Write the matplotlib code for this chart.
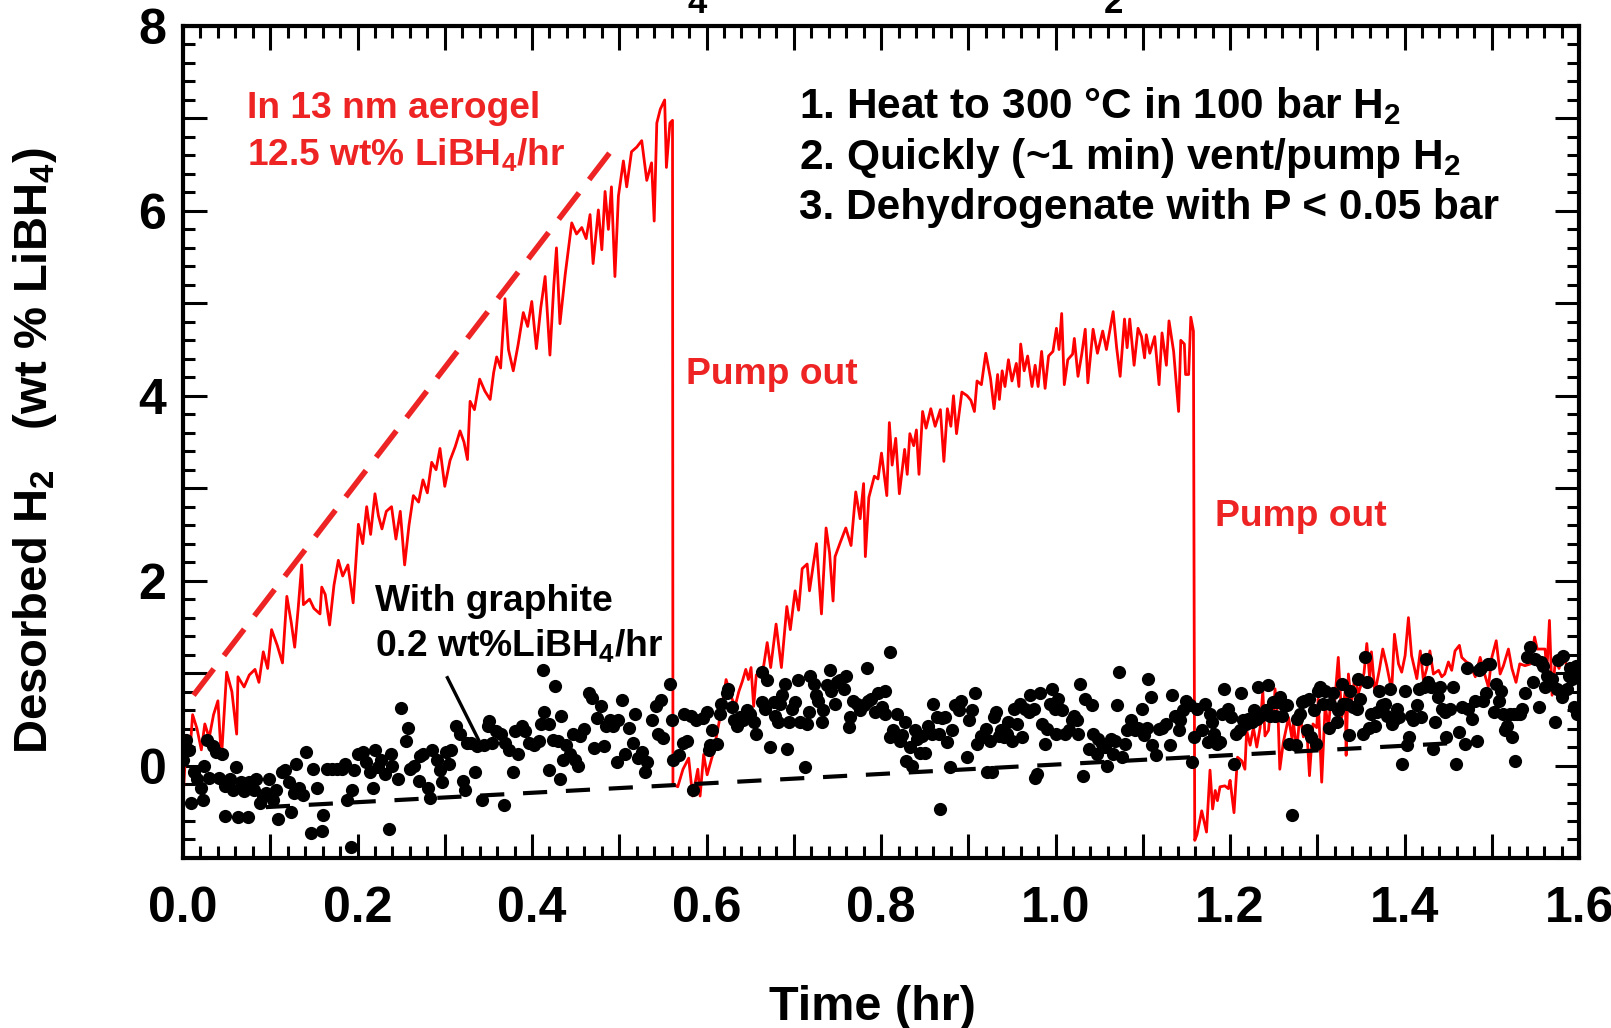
import matplotlib
matplotlib.use("Agg")
import matplotlib.pyplot as plt
from matplotlib.ticker import MultipleLocator, FuncFormatter

plt.rcParams["font.family"] = ["Liberation Sans", "DejaVu Sans"]
plt.rcParams["font.weight"] = "bold"
plt.rcParams["mathtext.fontset"] = "custom"
plt.rcParams["mathtext.bf"] = "Liberation Sans:bold"
plt.rcParams["mathtext.rm"] = "Liberation Sans:bold"
plt.rcParams["mathtext.default"] = "bf"

# red trace: LiBH4 in 13 nm aerogel (time in hr, wt% LiBH4)
red_t = [0.000, 0.004, 0.008, 0.011, 0.016, 0.021, 0.025, 0.030, 0.035, 0.040, 0.044, 0.050, 0.056, 0.0615, 0.063,
         0.070, 0.076, 0.0825, 0.087, 0.092, 0.097, 0.1015, 0.108, 0.114, 0.119, 0.124, 0.128, 0.132, 0.136, 0.138,
         0.145, 0.150, 0.157, 0.159, 0.163, 0.168, 0.173, 0.178, 0.183, 0.189, 0.195, 0.201, 0.206, 0.2105, 0.215,
         0.220, 0.224, 0.228, 0.233, 0.239, 0.244, 0.249, 0.254, 0.259, 0.264, 0.270, 0.275, 0.280, 0.285, 0.290,
         0.2945, 0.300, 0.306, 0.312, 0.3175, 0.322, 0.326, 0.329, 0.334, 0.340, 0.346, 0.352, 0.356, 0.3595, 0.364,
         0.369, 0.373, 0.3785, 0.384, 0.390, 0.395, 0.3997, 0.405, 0.410, 0.415, 0.4205, 0.425, 0.428, 0.432, 0.438,
         0.4455, 0.451, 0.457, 0.462, 0.4665, 0.470, 0.476, 0.480, 0.4837, 0.4875, 0.491, 0.495, 0.499, 0.5047, 0.5085,
         0.514, 0.520, 0.5257, 0.5315, 0.537, 0.540, 0.543, 0.547, 0.552, 0.554, 0.558, 0.561,
         # first pump out
         0.5615, 0.567, 0.573, 0.5795, 0.584, 0.590, 0.5926, 0.5967, 0.6007, 0.608, 0.612, 0.617, 0.6224, 0.628,
         0.6327, 0.637, 0.641, 0.645, 0.648, 0.651, 0.654, 0.657, 0.661, 0.6655, 0.6695, 0.6735, 0.6797, 0.6858,
         0.692, 0.696, 0.7015, 0.7055, 0.7096, 0.7153, 0.718, 0.722, 0.726, 0.7317, 0.737, 0.741, 0.745, 0.7473,
         0.7535, 0.7596, 0.7656, 0.771, 0.776, 0.780, 0.782, 0.786, 0.7923, 0.7965, 0.8005, 0.8066, 0.8095, 0.8127,
         0.8168, 0.821, 0.827, 0.830, 0.833, 0.8374, 0.8405, 0.8435, 0.8476, 0.8516, 0.857, 0.862, 0.868, 0.872,
         0.876, 0.880, 0.883, 0.8865, 0.8926, 0.8987, 0.903, 0.907, 0.910, 0.915, 0.920, 0.9254, 0.9295, 0.9336,
         0.9356, 0.9388, 0.942, 0.946, 0.950, 0.955, 0.958, 0.960, 0.964, 0.968, 0.973, 0.9766, 0.980, 0.984, 0.988,
         0.992, 0.997, 1.001, 1.004, 1.007, 1.010, 1.014, 1.0195, 1.0215, 1.0257, 1.030, 1.034, 1.037, 1.043, 1.048,
         1.054, 1.0583, 1.066, 1.070, 1.074, 1.079, 1.082, 1.085, 1.090, 1.0945, 1.0985, 1.102, 1.104, 1.108, 1.1136,
         1.1186, 1.122, 1.127, 1.130, 1.1353, 1.141, 1.1435, 1.1476, 1.149, 1.1525, 1.155, 1.158,
         # second pump out
         1.1595, 1.162, 1.1675, 1.173, 1.177, 1.180, 1.183, 1.1855, 1.1885, 1.194, 1.198, 1.200, 1.2045, 1.2085,
         1.2135, 1.217, 1.219, 1.223, 1.2267, 1.2306, 1.2344, 1.2375, 1.240, 1.244, 1.2467, 1.2496, 1.2515, 1.2553,
         1.257, 1.261, 1.267, 1.271, 1.2726, 1.2764, 1.280, 1.284, 1.288, 1.291, 1.295, 1.2993, 1.301, 1.305, 1.309,
         1.3127, 1.3165, 1.320, 1.324, 1.328, 1.332, 1.333, 1.3356, 1.339, 1.343, 1.347, 1.351, 1.3535, 1.3567,
         1.360, 1.362, 1.366, 1.371, 1.375, 1.3795, 1.3852, 1.3884, 1.393, 1.3967, 1.4006, 1.4044, 1.408, 1.414,
         1.418, 1.4216, 1.4254, 1.429, 1.433, 1.439, 1.4426, 1.446, 1.4502, 1.454, 1.4578, 1.4628, 1.4655, 1.471,
         1.475, 1.481, 1.4866, 1.4923, 1.496, 1.500, 1.505, 1.5095, 1.5133, 1.519, 1.523, 1.5277, 1.532, 1.538,
         1.5444, 1.549, 1.552, 1.557, 1.561, 1.563, 1.566, 1.569, 1.573, 1.577, 1.581, 1.585]
red_y = [-0.35, 0.30, 0.15, 0.55, 0.40, 0.17, 0.45, 0.30, 0.55, 0.70, 0.07, 1.01, 0.80, 0.34, 0.96,
         0.85, 0.98, 1.04, 0.90, 1.23, 1.05, 1.47, 1.30, 1.11, 1.83, 1.55, 1.28, 1.70, 2.17, 1.74,
         1.80, 1.70, 1.64, 1.93, 1.85, 1.52, 1.95, 2.22, 2.05, 2.17, 1.76, 2.61, 2.40, 2.80, 2.50,
         2.94, 2.70, 2.56, 2.75, 2.80, 2.45, 2.75, 2.17, 2.60, 2.92, 2.85, 3.09, 2.95, 3.28, 3.20,
         3.43, 3.02, 3.30, 3.45, 3.62, 3.50, 3.31, 3.94, 3.85, 4.18, 4.05, 3.96, 4.25, 4.42, 4.30,
         5.05, 4.50, 4.27, 4.55, 4.90, 4.75, 5.02, 4.51, 4.95, 5.29, 4.44, 5.20, 5.60, 4.78, 5.31,
         5.87, 5.75, 5.82, 5.70, 5.96, 5.43, 6.01, 5.58, 6.21, 5.80, 6.26, 5.29, 6.16, 6.54, 6.26,
         6.64, 6.69, 6.76, 6.33, 6.52, 5.89, 6.95, 7.10, 7.20, 6.47, 6.95, 6.98,
         -0.20, -0.23, -0.04, 0.08, -0.33, -0.04, -0.33, 0.12, -0.10, 0.15, 0.35, 0.60, 0.93, 0.75,
         0.64, 0.80, 0.91, 1.04, 0.93, 1.06, 0.64, 0.98, 1.00, 1.08, 1.33, 1.06, 1.53, 1.06,
         1.72, 1.47, 1.89, 1.68, 2.13, 2.18, 1.89, 2.15, 2.40, 1.64, 2.57, 2.30, 1.78, 2.26,
         2.42, 2.57, 2.38, 2.96, 2.67, 3.05, 2.26, 2.90, 3.13, 3.10, 3.38, 2.92, 3.71, 3.25,
         3.54, 2.94, 3.42, 3.15, 3.59, 3.46, 3.63, 3.15, 3.83, 3.65, 3.86, 3.67, 3.85, 3.29,
         3.86, 3.67, 4.00, 3.59, 4.04, 4.00, 3.95, 3.83, 4.16, 4.12, 4.46, 4.19, 3.86, 4.23,
         3.96, 4.27, 4.10, 4.39, 4.16, 4.35, 4.10, 4.56, 4.27, 4.43, 4.10, 4.33, 4.10, 4.48, 4.08,
         4.43, 4.48, 4.73, 4.50, 4.89, 4.12, 4.39, 4.45, 4.62, 4.21, 4.45, 4.72, 4.14, 4.72, 4.46,
         4.70, 4.50, 4.91, 4.52, 4.21, 4.83, 4.52, 4.83, 4.33, 4.73, 4.64, 4.41, 4.66, 4.46, 4.64,
         4.12, 4.68, 4.33, 4.81, 4.48, 3.83, 4.60, 4.56, 4.23, 4.23, 4.85, 4.70,
         -0.81, -0.75, -0.49, -0.72, -0.05, -0.47, -0.27, -0.38, -0.23, -0.22, -0.25, -0.16, -0.51, 0.09,
         0.05, -0.04, 0.38, 0.22, 0.41, 0.20, 0.41, 0.81, 0.32, 0.38, 0.65, 0.52, 0.83, 0.45,
         -0.04, 0.25, 0.52, 0.29, 0.47, 0.16, 0.56, 0.31, 0.38, -0.11, 0.45, 0.41, 0.72, -0.18, 0.65,
         0.41, 0.81, 0.70, 1.17, 0.52, 0.81, 0.11, 0.99, 0.67, 0.96, 0.78, 0.90, 1.00, 1.32,
         0.94, 1.23, 0.79, 1.03, 1.26, 1.08, 0.81, 1.42, 1.10, 1.01, 1.19, 1.60, 1.19, 0.94,
         1.24, 0.92, 1.05, 1.24, 0.99, 1.03, 0.96, 0.99, 1.12, 1.03, 1.24, 1.30, 1.17, 1.12,
         1.10, 0.96, 1.17, 0.97, 0.85, 1.17, 1.35, 0.99, 1.08, 1.26, 1.05, 0.90, 1.10, 1.08,
         1.10, 1.39, 1.26, 1.26, 1.26, 1.01, 1.57, 0.76, 1.15, 1.05, 1.20, 1.10]

# black points: with graphite
dot_t = [0.000, 0.003, 0.007, 0.009, 0.0126, 0.0165, 0.0205, 0.0225, 0.0244, 0.027, 0.0303, 0.034, 0.038, 0.0414,
         0.0442, 0.048, 0.048, 0.054, 0.057, 0.061, 0.063, 0.066, 0.070, 0.074, 0.076, 0.081, 0.084, 0.0877, 0.0916,
         0.0955, 0.099, 0.1034, 0.107, 0.109, 0.113, 0.1173, 0.121, 0.124, 0.127, 0.129, 0.133, 0.137, 0.141, 0.147,
         0.149, 0.153, 0.159, 0.161, 0.165, 0.171, 0.177, 0.182, 0.186, 0.188, 0.192, 0.194, 0.196, 0.200, 0.206,
         0.210, 0.214, 0.218, 0.220, 0.224, 0.227, 0.232, 0.236, 0.238, 0.240, 0.246, 0.250, 0.255, 0.258, 0.260,
         0.265, 0.270, 0.272, 0.275, 0.281, 0.283, 0.285, 0.291, 0.295, 0.297, 0.301, 0.305, 0.307, 0.313, 0.317,
         0.321, 0.323, 0.326, 0.3297, 0.335, 0.3375, 0.343, 0.3446, 0.349, 0.3505, 0.354, 0.3584, 0.364, 0.368,
         0.3695, 0.3735, 0.378, 0.380, 0.384, 0.388, 0.392, 0.396, 0.402, 0.408, 0.410, 0.414, 0.413, 0.419, 0.420,
         0.424, 0.426, 0.430, 0.432, 0.4335, 0.4355, 0.4395, 0.4435, 0.4475, 0.449, 0.453, 0.455, 0.459, 0.465,
         0.469, 0.471, 0.475, 0.479, 0.483, 0.485, 0.489, 0.493, 0.497, 0.499, 0.503, 0.507, 0.511, 0.516, 0.518,
         0.522, 0.526, 0.530, 0.532, 0.538, 0.542, 0.544, 0.548, 0.550, 0.558, 0.560, 0.562, 0.568, 0.573, 0.574,
         0.578, 0.582, 0.5845, 0.588, 0.596, 0.600, 0.603,
         0.604, 0.606, 0.612, 0.615, 0.617, 0.623, 0.625, 0.629, 0.631, 0.635, 0.638, 0.642, 0.646, 0.650, 0.654,
         0.657, 0.663, 0.663, 0.669, 0.667, 0.673, 0.677, 0.679, 0.682, 0.684, 0.686, 0.690, 0.692, 0.695, 0.698,
         0.701, 0.705, 0.707, 0.713, 0.715, 0.717, 0.719, 0.723, 0.726, 0.728, 0.732, 0.734, 0.738, 0.742, 0.743,
         0.747, 0.749, 0.753, 0.757, 0.760, 0.763, 0.764, 0.768, 0.772, 0.776, 0.780, 0.784, 0.785, 0.789, 0.793,
         0.797, 0.801, 0.805, 0.805, 0.810, 0.810, 0.814, 0.818, 0.822, 0.824, 0.828, 0.829, 0.833, 0.835, 0.839,
         0.841, 0.845, 0.847, 0.850, 0.854, 0.858, 0.860, 0.864, 0.866, 0.868, 0.870, 0.873, 0.876, 0.879, 0.881,
         0.885, 0.889, 0.892, 0.898, 0.901, 0.904, 0.908, 0.910, 0.914, 0.917, 0.920, 0.921, 0.925, 0.927, 0.929,
         0.932, 0.935, 0.938, 0.941, 0.944, 0.946, 0.950, 0.952, 0.956, 0.959, 0.962, 0.965, 0.969, 0.971, 0.975,
         0.977, 0.979, 0.982, 0.984, 0.988, 0.990, 0.994, 0.996, 0.999, 1.001, 1.003, 1.007, 1.011, 1.015, 1.019,
         1.021, 1.024, 1.026, 1.028, 1.032, 1.034, 1.038, 1.042, 1.043, 1.047, 1.049, 1.053, 1.057, 1.059, 1.063,
         1.066, 1.068, 1.070, 1.073, 1.076, 1.080, 1.082, 1.085, 1.087, 1.091, 1.095, 1.099, 1.101, 1.105, 1.106,
         1.109, 1.111, 1.115, 1.118, 1.122, 1.126, 1.131, 1.134, 1.137, 1.141, 1.143, 1.146, 1.150, 1.154, 1.156,
         1.159, 1.162,
         1.168, 1.171, 1.175, 1.177, 1.179, 1.181, 1.185, 1.188, 1.191, 1.193, 1.198, 1.201, 1.205, 1.207, 1.211,
         1.212, 1.215, 1.218, 1.221, 1.225, 1.227, 1.231, 1.232, 1.234, 1.238, 1.241, 1.243, 1.246, 1.249, 1.252,
         1.254, 1.257, 1.259, 1.262, 1.265, 1.267, 1.271, 1.275, 1.277, 1.280, 1.282, 1.285, 1.288, 1.290, 1.293,
         1.296, 1.298, 1.301, 1.303, 1.307, 1.309, 1.313, 1.315, 1.318, 1.322, 1.324, 1.328, 1.329, 1.334, 1.336,
         1.338, 1.341, 1.345, 1.347, 1.349, 1.352, 1.355, 1.357, 1.359, 1.362, 1.366, 1.368, 1.371, 1.374, 1.377,
         1.380, 1.383, 1.385, 1.389, 1.391, 1.394, 1.397, 1.400, 1.403, 1.405, 1.407, 1.410, 1.414, 1.416, 1.419,
         1.422, 1.424, 1.427, 1.430, 1.433, 1.435, 1.438, 1.441, 1.443, 1.446, 1.448, 1.452, 1.456, 1.459, 1.462,
         1.466, 1.469, 1.471, 1.473, 1.477, 1.481, 1.483, 1.485, 1.487, 1.490, 1.493, 1.496, 1.498, 1.502, 1.505,
         1.508, 1.510, 1.513, 1.515, 1.517, 1.521, 1.523, 1.525, 1.527, 1.529, 1.532, 1.534, 1.538, 1.540, 1.544,
         1.547, 1.550, 1.554, 1.556, 1.559, 1.561, 1.563, 1.569, 1.572, 1.575, 1.576, 1.580, 1.582, 1.586, 1.588,
         1.590, 1.592, 1.594, 1.598, 1.596]
dot_y = [0.06, 0.28, 0.17, -0.41, -0.07, -0.15, -0.24, -0.37, 0.00, 0.28, -0.13, 0.21, 0.15, -0.13,
         0.13, -0.22, -0.55, -0.15, -0.26, -0.02, -0.56, -0.18, -0.28, -0.56, -0.18, -0.26, -0.15, -0.41, -0.33,
         -0.30, -0.15, -0.37, -0.26, -0.58, -0.07, -0.05, -0.18, -0.50, -0.30, 0.02, -0.24, -0.32, 0.15, -0.73,
         -0.04, -0.24, -0.71, -0.54, -0.04, -0.04, -0.04, -0.04, 0.02, -0.37, -0.88, -0.26, -0.05, 0.13, 0.15,
         0.04, -0.07, -0.24, 0.17, -0.02, 0.06, -0.09, -0.69, 0.13, 0.00, -0.15, 0.62, 0.26, 0.41, -0.04,
         0.00, -0.17, 0.10, 0.13, -0.24, -0.35, 0.17, 0.06, -0.05, -0.18, 0.15, 0.02, 0.17, 0.43, 0.34,
         -0.17, -0.26, 0.24, 0.24, -0.07, 0.21, -0.37, 0.22, 0.43, 0.48, 0.24, 0.37, 0.34, -0.43,
         0.24, 0.17, -0.07, 0.37, 0.13, 0.43, 0.37, 0.24, 0.22, 0.26, 0.45, 0.58, 1.03, 0.45, -0.05,
         0.28, 0.86, 0.26, -0.15, 0.54, 0.06, 0.22, 0.13, 0.34, 0.06, 0.00, 0.32, 0.39, 0.78,
         0.73, 0.19, 0.51, 0.64, 0.21, 0.43, 0.49, 0.43, 0.04, 0.49, 0.71, 0.13, 0.41, 0.24, 0.56,
         0.08, 0.15, -0.07, 0.04, 0.49, 0.64, 0.34, 0.71, 0.30, 0.88, 0.49, 0.06, 0.11, 0.24, 0.56,
         0.26, 0.54, -0.26, 0.49, 0.51, 0.58, 0.17,
         0.22, 0.38, 0.23, 0.56, 0.67, 0.78, 0.83, 0.63, 0.49, 0.43, 0.52, 0.49, 0.60, 0.56, 0.47,
         0.34, 1.01, 0.69, 0.92, 0.61, 0.20, 0.69, 0.54, 0.47, 0.67, 0.76, 0.88, 0.18, 0.47, 0.61,
         0.69, 0.92, 0.47, -0.02, 0.45, 0.58, 0.97, 0.88, 0.76, 0.70, 0.47, 0.60, 0.87, 1.03, 0.81,
         0.67, 0.90, 0.92, 0.83, 0.97, 0.42, 0.52, 0.70, 0.67, 0.60, 0.65, 1.06, 0.70, 0.72, 0.58,
         0.79, 0.63, 0.81, 0.56, 1.23, 0.31, 0.38, 0.56, 0.27, 0.33, 0.47, 0.05, 0.20, 0.00, 0.38,
         0.29, 0.14, 0.32, 0.14, 0.43, 0.34, 0.67, 0.52, 0.34, -0.47, 0.51, 0.52, 0.25, -0.02, 0.38,
         0.65, 0.60, 0.70, 0.09, 0.49, 0.60, 0.78, 0.23, 0.32, 0.31, 0.40, -0.07, 0.27, -0.07, 0.52,
         0.58, 0.32, 0.38, 0.31, 0.34, 0.47, 0.27, 0.61, 0.45, 0.67, 0.31, 0.61, 0.58, 0.76, 0.61,
         -0.13, -0.09, 0.78, 0.45, 0.23, 0.40, 0.67, 0.83, 0.61, 0.34, 0.72, 0.60, 0.34, 0.38, 0.49,
         0.54, 0.49, 0.34, 0.88, -0.11, 0.72, 0.18, 0.65, 0.34, 0.13, 0.29, 0.23, 0.20, 0.00, 0.29,
         0.13, 0.27, 0.65, 1.01, 0.09, 0.23, 0.38, 0.41, 0.49, 0.38, 0.41, 0.61, 0.33, 0.41, 0.94,
         0.74, 0.22, 0.11, 0.40, 0.41, 0.45, 0.22, 0.76, 0.54, 0.38, 0.49, 0.60, 0.70, 0.65, 0.04,
         0.31, 0.61,
         0.38, 0.67, 0.25, 0.56, 0.47, 0.34, 0.23, 0.25, 0.56, 0.83, 0.61, 0.52, 0.02, 0.34, 0.38,
         0.78, 0.49, 0.45, 0.50, 0.47, 0.60, 0.50, 0.85, 0.54, 0.56, 0.60, 0.87, 0.54, 0.69, 0.54,
         0.69, 0.74, 0.54, 0.65, 0.65, 0.23, -0.54, 0.22, 0.50, 0.56, 0.69, 0.70, 0.38, 0.72, 0.31,
         0.60, 0.23, 0.81, 0.85, 0.67, 0.81, 0.41, 0.67, 0.78, 0.47, 0.60, 0.88, 0.67, 0.67, 0.33,
         0.81, 0.63, 0.61, 0.94, 0.72, 0.34, 1.17, 0.90, 0.41, 0.56, 0.43, 0.58, 0.81, 0.65, 0.67,
         0.54, 0.83, 0.45, 0.50, 0.61, 0.52, 0.02, 0.81, 0.22, 0.31, 0.54, 0.49, 0.65, 0.83, 0.52,
         0.85, 1.15, 0.90, 0.85, 0.18, 0.47, 0.74, 0.85, 0.61, 0.58, 0.31, 0.61, 0.85, 0.02, 0.36,
         0.63, 0.23, 1.05, 0.61, 0.50, 0.70, 0.27, 1.03, 1.05, 0.70, 0.79, 1.10, 1.10, 0.58, 0.88,
         0.70, 0.81, 0.56, 0.38, 0.43, 0.56, 0.31, 0.56, 0.05, 0.56, 0.56, 0.61, 0.78, 1.17, 1.28,
         0.90, 1.15, 0.63, 1.12, 1.08, 0.85, 0.97, 0.94, 0.47, 0.83, 1.14, 0.74, 1.19, 0.83, 0.97,
         1.06, 0.94, 0.63, 0.56, 1.08]

# fitted rate lines (end points)
aerogel_fit_t = [0.012, 0.494]
aerogel_fit_y = [0.76, 6.69]
graphite_fit_t = [0.095, 1.47]
graphite_fit_y = [-0.45, 0.25]

red = "#FF0000"
text_red = "#EE2424"

fig = plt.figure(figsize=(16.11, 10.28), dpi=100)
ax = fig.add_axes([0.1136, 0.1654, 0.8666, 0.8093])

ax.plot(red_t, red_y, color=red, lw=2.0, zorder=2)
ax.plot(dot_t, dot_y, "o", color="black", ms=9.5, mew=0, zorder=3)
ax.plot(aerogel_fit_t, aerogel_fit_y, color=text_red, lw=4.0, dashes=(6, 3), zorder=4)
ax.plot(graphite_fit_t, graphite_fit_y, color="black", lw=3.0, dashes=(5.8, 4.5), zorder=4)
ax.plot([0.303, 0.3386], [0.95, 0.28], color="black", lw=2.4, zorder=4)

ax.set_xlim(0, 1.6)
ax.set_ylim(-1, 8)

ax.xaxis.set_major_locator(MultipleLocator(0.1))
ax.xaxis.set_minor_locator(MultipleLocator(0.02))
ax.yaxis.set_major_locator(MultipleLocator(1))
ax.yaxis.set_minor_locator(MultipleLocator(0.2))
ax.xaxis.set_major_formatter(FuncFormatter(lambda v, p: f"{v:.1f}" if round(v * 10) % 2 == 0 else ""))
ax.yaxis.set_major_formatter(FuncFormatter(lambda v, p: f"{v:.0f}" if round(v) % 2 == 0 and v > -0.5 else ""))

ax.tick_params(which="both", direction="in", top=True, right=True, width=2.2, labelsize=36)
ax.tick_params(which="major", length=17)
ax.tick_params(which="minor", length=8.5)
ax.tick_params(axis="x", which="major", pad=20)
ax.tick_params(axis="y", which="major", pad=12)
for s in ax.spines.values():
    s.set_linewidth(3.0)
for lab in ax.get_xticklabels() + ax.get_yticklabels():
    lab.set_fontweight("bold")

ax.set_xlabel("Time (hr)", fontsize=35, fontweight="bold")
ax.xaxis.set_label_coords(0.494, -0.153)
ax.set_ylabel("Desorbed H$_2$   (wt % LiBH$_4$)", fontsize=34, fontweight="bold")
ax.yaxis.set_label_coords(-0.089, 0.49)

ax.text(0.706, 7.0, "1. Heat to 300 °C in 100 bar H$_2$", fontsize=30.5, fontweight="bold")
ax.text(0.706, 6.45, "2. Quickly (~1 min) vent/pump H$_2$", fontsize=30.5, fontweight="bold")
ax.text(0.706, 5.91, "3. Dehydrogenate with P < 0.05 bar", fontsize=30.5, fontweight="bold")

ax.text(0.073, 7.0, "In 13 nm aerogel", fontsize=26.7, fontweight="bold", color=text_red)
ax.text(0.073, 6.5, "12.5 wt% LiBH$_4$/hr", fontsize=26.7, fontweight="bold", color=text_red)
ax.text(0.577, 4.13, "Pump out", fontsize=26.8, fontweight="bold", color=text_red)
ax.text(1.183, 2.59, "Pump out", fontsize=26.8, fontweight="bold", color=text_red)

ax.text(0.22, 1.67, "With graphite", fontsize=26.8, fontweight="bold")
ax.text(0.22, 1.19, "0.2 wt%LiBH$_4$/hr", fontsize=26.8, fontweight="bold")

# subscripts of the cut-off title above the frame
fig.text(0.433, 0.987, "4", fontsize=25, fontweight="bold", ha="center", va="baseline")
fig.text(0.691, 0.987, "2", fontsize=25, fontweight="bold", ha="center", va="baseline")

fig.savefig("out.png", dpi=100)
